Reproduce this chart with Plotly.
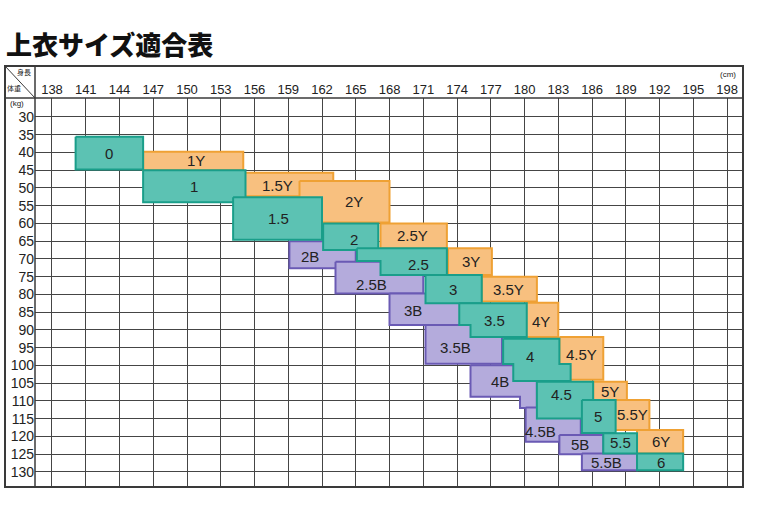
import plotly.graph_objects as go

# ---------------- data ----------------
heights = [138, 141, 144, 147, 150, 153, 156, 159, 162, 165, 168, 171, 174, 177, 180, 183, 186, 189, 192, 195, 198]
weights = [30, 35, 40, 45, 50, 55, 60, 65, 70, 75, 80, 85, 90, 95, 100, 105, 110, 115, 120, 125, 130]

# Y (slim) sizes : rectangles  [cm_from, cm_to, kg_from, kg_to]
slim_labels = ["1Y", "1.5Y", "2Y", "2.5Y", "3Y", "3.5Y", "4Y", "4.5Y", "5Y", "5.5Y", "6Y"]
slim_rects = [
    [146.1, 155.0, 39.8, 45.0],
    [155.0, 163.0, 45.7, 52.3],
    [160.0, 168.0, 48.0, 59.7],
    [167.2, 173.1, 60.0, 67.0],
    [173.2, 177.1, 67.0, 74.5],
    [176.2, 181.1, 75.0, 82.0],
    [180.1, 183.0, 82.3, 92.0],
    [183.1, 187.0, 92.0, 104.0],
    [186.1, 189.1, 104.6, 109.7],
    [188.0, 191.1, 109.7, 118.2],
    [190.0, 194.1, 118.2, 124.8],
]
slim_label_pts = [(150.8, 42.3), (158.0, 49.3), (164.8, 53.7), (170.0, 63.5), (175.2, 70.8),
                  (178.6, 78.6), (181.5, 87.5), (185.1, 97.0), (187.6, 107.2), (189.6, 113.8), (192.1, 121.5)]

# standard sizes : outlines [(cm, kg), ...]
std_labels = ["0", "1", "1.5", "2", "2.5", "3", "3.5", "4", "4.5", "5", "5.5", "6"]
std_outlines = [
    [(140.1, 35.6), (146.1, 35.6), (146.1, 44.8), (140.1, 44.8)],
    [(146.1, 45.0), (155.2, 45.0), (155.2, 54.0), (146.1, 54.0)],
    [(154.1, 52.6), (162.0, 52.6), (162.0, 64.6), (154.1, 64.6)],
    [(162.1, 60.0), (167.0, 60.0), (167.0, 67.5), (162.1, 67.5)],
    [(165.1, 67.0), (173.1, 67.0), (173.1, 74.5), (167.2, 74.5), (167.2, 70.6), (165.1, 70.6)],
    [(171.2, 74.5), (176.2, 74.5), (176.2, 82.5), (171.2, 82.5)],
    [(174.2, 82.5), (180.2, 82.5), (180.2, 92.0), (175.2, 92.0), (175.2, 88.6), (174.2, 88.6)],
    [(178.1, 92.5), (183.1, 92.5), (183.1, 99.6), (184.1, 99.6), (184.1, 104.4), (179.0, 104.4), (179.0, 99.6), (178.1, 99.6)],
    [(181.1, 104.6), (186.1, 104.6), (186.1, 114.9), (181.1, 114.9)],
    [(185.1, 109.7), (188.1, 109.7), (188.1, 119.0), (185.1, 119.0)],
    [(187.0, 119.1), (190.0, 119.1), (190.0, 124.8), (187.0, 124.8)],
    [(190.0, 124.8), (194.1, 124.8), (194.1, 129.5), (190.0, 129.5)],
]
std_label_pts = [(143.1, 40.2), (150.6, 49.5), (158.1, 58.6), (164.8, 64.4), (170.6, 71.6), (173.6, 78.6),
                 (177.3, 87.3), (180.5, 97.5), (183.3, 108.3), (186.5, 114.3), (188.5, 121.8), (192.1, 127.2)]

# B (big) sizes : outlines
big_labels = ["2B", "2.5B", "3B", "3.5B", "4B", "4.5B", "5B", "5.5B"]
big_outlines = [
    [(159.1, 65.0), (165.0, 65.0), (165.0, 72.6), (159.1, 72.6)],
    [(163.2, 70.8), (171.0, 70.8), (171.0, 79.7), (163.2, 79.7)],
    [(168.0, 79.7), (174.3, 79.7), (174.3, 88.6), (168.0, 88.6)],
    [(171.2, 88.6), (178.0, 88.6), (178.0, 99.5), (171.2, 99.5)],
    [(175.2, 99.9), (181.1, 99.9), (181.1, 112.0), (179.6, 112.0), (179.6, 108.8), (175.2, 108.8)],
    [(180.1, 111.8), (185.0, 111.8), (185.0, 121.5), (180.1, 121.5)],
    [(183.1, 119.6), (187.0, 119.6), (187.0, 125.0), (183.1, 125.0)],
    [(185.1, 124.8), (190.0, 124.8), (190.0, 129.5), (185.1, 129.5)],
]
big_label_pts = [(160.9, 69.4), (166.4, 77.3), (170.1, 84.6), (173.9, 94.8), (177.8, 104.4),
                 (181.4, 118.6), (184.9, 122.3), (187.3, 127.2)]

# ---------------- style ----------------
ORANGE_FILL, ORANGE_LINE = "#F8C07F", "#EFA134"
TEAL_FILL, TEAL_LINE = "#5CC2B3", "#1A9E8A"
PURPLE_FILL, PURPLE_LINE = "#B4ABDC", "#6A5AB4"
GRID = "#454545"
TXT = "#222222"
FONT = "Liberation Sans, Arial, sans-serif"

W, H = 758, 506
# plot area at x 35..743, y 98..487 of the window
PW, PH = 708, 389
ML, MT = 35, 98
MR, MB = W - ML - PW, H - MT - PH

def px2paper_x(px):
    return (px - ML) / PW
def px2paper_y(py):
    return 1 + (MT - py) / PH

fig = go.Figure()

def add_shape(outline, fill, line):
    xs = [p[0] for p in outline] + [outline[0][0]]
    ys = [p[1] for p in outline] + [outline[0][1]]
    fig.add_trace(go.Scatter(x=xs, y=ys, mode="lines", fill="toself", fillcolor=fill,
                             line=dict(color=line, width=2), hoverinfo="skip", showlegend=False))

def rect(r):
    x0, x1, y0, y1 = r
    return [(x0, y0), (x1, y0), (x1, y1), (x0, y1)]

for o in big_outlines:
    add_shape(o, PURPLE_FILL, PURPLE_LINE)
for r in slim_rects:
    add_shape(rect(r), ORANGE_FILL, ORANGE_LINE)
for o in std_outlines:
    add_shape(o, TEAL_FILL, TEAL_LINE)

annotations = []
for labels, pts in [(big_labels, big_label_pts), (slim_labels, slim_label_pts), (std_labels, std_label_pts)]:
    for lab, (cx, cy) in zip(labels, pts):
        annotations.append(dict(x=cx, y=cy, xref="x", yref="y", text=lab, showarrow=False,
                                font=dict(family=FONT, size=15, color=TXT)))

# title and header texts
annotations += [
    dict(x=px2paper_x(4), y=px2paper_y(44), xref="paper", yref="paper", text="上衣サイズ適合表",
         showarrow=False, xanchor="left", yanchor="middle",
         font=dict(family="Noto Sans CJK JP", size=26, color="#111111", weight=900)),
    dict(x=px2paper_x(738), y=px2paper_y(74), xref="paper", yref="paper", text="(cm)", showarrow=False,
         xanchor="right", yanchor="middle", font=dict(family=FONT, size=8, color=TXT)),
    dict(x=px2paper_x(24), y=px2paper_y(72), xref="paper", yref="paper", text="身長", showarrow=False,
         xanchor="center", yanchor="middle", font=dict(family="Noto Sans CJK JP", size=7, color=TXT)),
    dict(x=px2paper_x(14), y=px2paper_y(88), xref="paper", yref="paper", text="体重", showarrow=False,
         xanchor="center", yanchor="middle", font=dict(family="Noto Sans CJK JP", size=7, color=TXT)),
    dict(x=px2paper_x(17), y=px2paper_y(103), xref="paper", yref="paper", text="(kg)", showarrow=False,
         xanchor="center", yanchor="middle", font=dict(family=FONT, size=8, color=TXT)),
]

shapes = [
    # outer frame
    dict(type="rect", xref="paper", yref="paper", x0=px2paper_x(5), x1=1, y0=0, y1=px2paper_y(66),
         line=dict(color="#3a3a3a", width=2), fillcolor="rgba(0,0,0,0)", layer="above"),
    # header separator
    dict(type="line", xref="paper", yref="paper", x0=px2paper_x(5), x1=1, y0=1, y1=1,
         line=dict(color="#3a3a3a", width=1.5), layer="above"),
    # left column separator
    dict(type="line", xref="paper", yref="paper", x0=0, x1=0, y0=0, y1=px2paper_y(66),
         line=dict(color="#3a3a3a", width=1.5), layer="above"),
    # diagonal in corner cell
    dict(type="line", xref="paper", yref="paper", x0=px2paper_x(5), x1=0, y0=px2paper_y(66), y1=1,
         line=dict(color="#3a3a3a", width=1), layer="above"),
]

fig.update_layout(
    width=W, height=H, margin=dict(l=ML, r=MR, t=MT, b=MB, autoexpand=False),
    paper_bgcolor="white", plot_bgcolor="white",
    annotations=annotations, shapes=shapes,
    xaxis=dict(range=[136.49, 199.42], side="top", tickvals=heights, ticktext=[str(h) for h in heights],
               showgrid=True, gridcolor=GRID, gridwidth=1, zeroline=False, showline=False, ticks="",
               automargin=False, tickfont=dict(family=FONT, size=13, color=TXT), fixedrange=True,
               layer="below traces"),
    yaxis=dict(range=[134.23, 24.65], tickvals=weights, ticktext=[str(w) for w in weights],
               showgrid=True, gridcolor=GRID, gridwidth=1, zeroline=False, showline=False, ticks="",
               automargin=False, tickfont=dict(family=FONT, size=14, color=TXT), fixedrange=True,
               layer="below traces"),
)

# remove the default 8px page margin so the figure sits at the window's corner
fig.write_html("out.html", post_script="document.body.style.margin='0px';",
               config={"displayModeBar": False})
